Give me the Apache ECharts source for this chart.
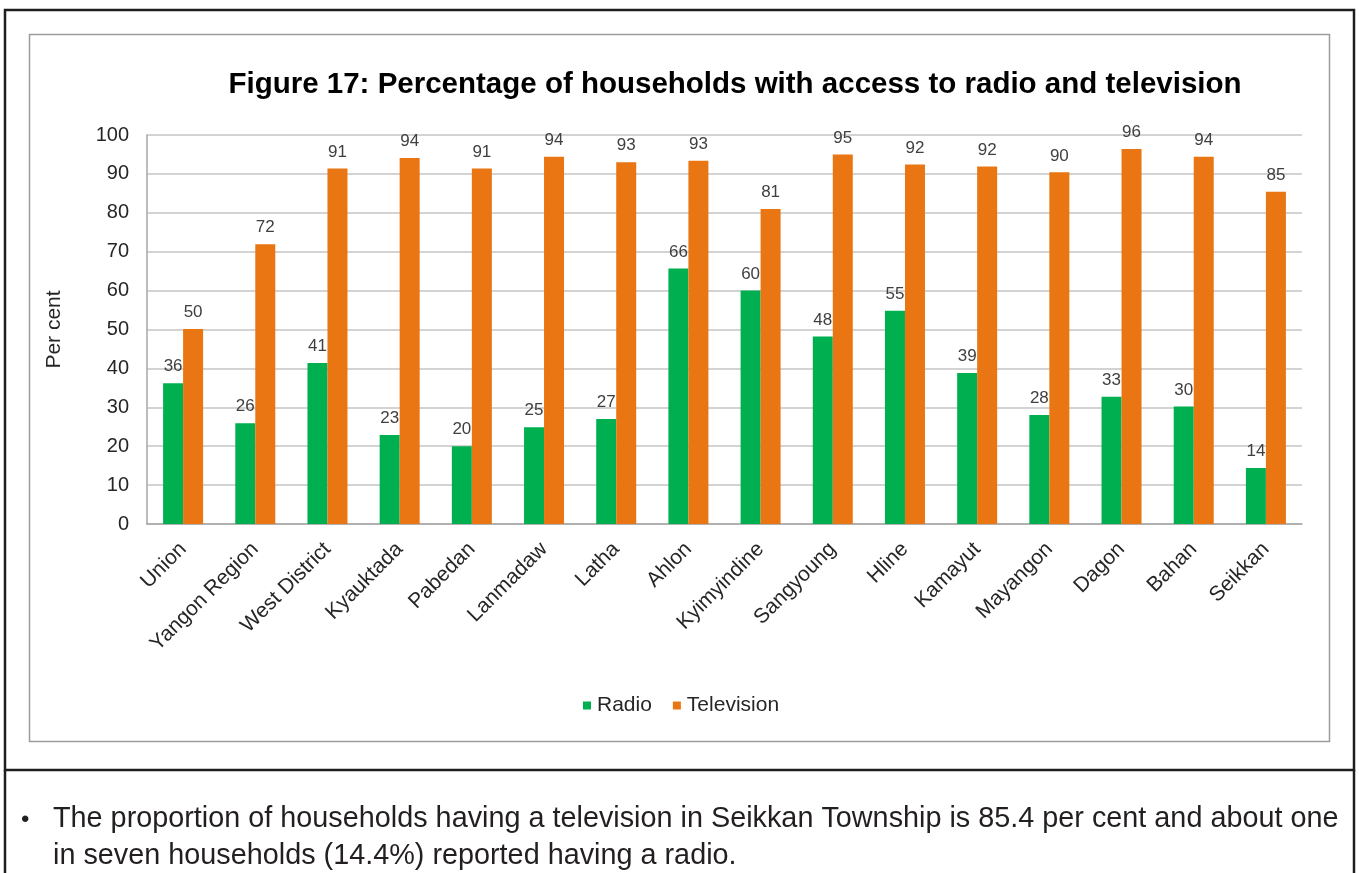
<!DOCTYPE html>
<html>
<head>
<meta charset="utf-8">
<title>Figure 17: Percentage of households with access to radio and television</title>
<script src="https://cdn.jsdelivr.net/npm/echarts@6/dist/echarts.min.js"></script>
<style>
  html, body { margin: 0; padding: 0; background: #fff; }
  #chart { width: 1359px; height: 873px; }
</style>
</head>
<body>
<div id="chart"></div>
<script>
// Township / area names along the horizontal axis
const categories = ['Union', 'Yangon Region', 'West District', 'Kyauktada', 'Pabedan', 'Lanmadaw',
  'Latha', 'Ahlon', 'Kyimyindine', 'Sangyoung', 'Hline', 'Kamayut', 'Mayangon', 'Dagon', 'Bahan', 'Seikkan'];

// Percentage of households with a radio
const radio = [36.2, 25.9, 41.4, 22.9, 20.0, 24.9, 27.0, 65.7, 60.0, 48.2, 54.8, 38.8, 28.0, 32.7, 30.2, 14.4];

// Percentage of households with a television
const television = [50.1, 71.9, 91.4, 94.1, 91.4, 94.4, 93.0, 93.4, 81.0, 95.0, 92.4, 91.9, 90.4, 96.4, 94.4, 85.4];

// Value axis ticks
const yTicks = { min: 0, max: 100, interval: 10 };

const titleText = 'Figure 17: Percentage of households with access to radio and television';
const yAxisTitle = 'Per cent';
const noteLine1 = 'The proportion of households having a television in Seikkan Township is 85.4 per cent and about one';
const noteLine2 = 'in seven households (14.4%) reported having a radio.';

const FONT = 'Liberation Sans, Arial, sans-serif';
const GREEN = '#00B050';
const ORANGE = '#E97612';

const chart = echarts.init(document.getElementById('chart'), null, { renderer: 'canvas' });

const valueLabel = {
  show: true,
  position: 'top',
  distance: 8,
  fontFamily: FONT,
  fontSize: 17,
  color: '#404040',
  formatter: p => Math.round(p.value)
};

chart.setOption({
  backgroundColor: '#ffffff',
  animation: false,
  textStyle: { fontFamily: FONT },
  grid: { left: 147, right: 57, top: 135, bottom: 349, containLabel: false },
  legend: {
    left: 583,
    top: 695,
    padding: 0,
    itemWidth: 8,
    itemHeight: 8,
    itemGap: 21,
    icon: 'rect',
    textStyle: { fontFamily: FONT, fontSize: 21, color: '#262626', padding: [0, 0, 0, 1] },
    data: ['Radio', 'Television']
  },
  xAxis: {
    type: 'category',
    data: categories,
    axisLine: { show: true, lineStyle: { color: '#a6a6a6', width: 1.5 } },
    axisTick: { show: false },
    axisLabel: {
      rotate: 45,
      interval: 0,
      margin: 22,
      fontFamily: FONT,
      fontSize: 21,
      color: '#262626'
    }
  },
  yAxis: {
    type: 'value',
    min: yTicks.min,
    max: yTicks.max,
    interval: yTicks.interval,
    name: yAxisTitle,
    nameLocation: 'middle',
    nameRotate: 90,
    nameGap: 82,
    nameTextStyle: { fontFamily: FONT, fontSize: 21, color: '#262626' },
    axisLine: { show: true, lineStyle: { color: '#a6a6a6', width: 1.5 } },
    axisTick: { show: false },
    axisLabel: { margin: 18, fontFamily: FONT, fontSize: 20, color: '#262626' },
    splitLine: { show: true, lineStyle: { color: '#c4c4c4', width: 1.5 } }
  },
  series: [
    {
      name: 'Radio',
      type: 'bar',
      data: radio,
      barWidth: 20,
      barGap: '0%',
      itemStyle: { color: GREEN },
      label: valueLabel
    },
    {
      name: 'Television',
      type: 'bar',
      data: television,
      barWidth: 20,
      barGap: '0%',
      itemStyle: { color: ORANGE },
      label: valueLabel
    }
  ],
  graphic: [
    // outer black frame around the figure
    { type: 'rect', shape: { x: 5, y: 10, width: 1349, height: 760 }, style: { fill: null, stroke: '#1e1e1e', lineWidth: 2.5 }, silent: true },
    // side rules of the note box below the figure
    { type: 'line', shape: { x1: 5, y1: 770, x2: 5, y2: 880 }, style: { stroke: '#1e1e1e', lineWidth: 2.5 }, silent: true },
    { type: 'line', shape: { x1: 1354, y1: 770, x2: 1354, y2: 880 }, style: { stroke: '#1e1e1e', lineWidth: 2.5 }, silent: true },
    // grey chart-area frame
    { type: 'rect', shape: { x: 29.5, y: 34.5, width: 1300, height: 707 }, style: { fill: null, stroke: '#9c9c9c', lineWidth: 1.5 }, silent: true },
    // chart title
    {
      type: 'text', x: 735, y: 85,
      style: { text: titleText, fontFamily: FONT, fontWeight: 'bold', fontSize: 29.5, fill: '#000', align: 'center', verticalAlign: 'middle' },
      silent: true
    },
    // note text
    {
      type: 'text', x: 21, y: 820,
      style: { text: '\u2022', fontFamily: FONT, fontSize: 24, fill: '#231f20', align: 'left', verticalAlign: 'middle' },
      silent: true
    },
    {
      type: 'text', x: 53, y: 819,
      style: { text: noteLine1, fontFamily: FONT, fontSize: 28.8, fill: '#231f20', align: 'left', verticalAlign: 'middle' },
      silent: true
    },
    {
      type: 'text', x: 53, y: 856,
      style: { text: noteLine2, fontFamily: FONT, fontSize: 28.8, fill: '#231f20', align: 'left', verticalAlign: 'middle' },
      silent: true
    }
  ]
});
</script>
</body>
</html>
